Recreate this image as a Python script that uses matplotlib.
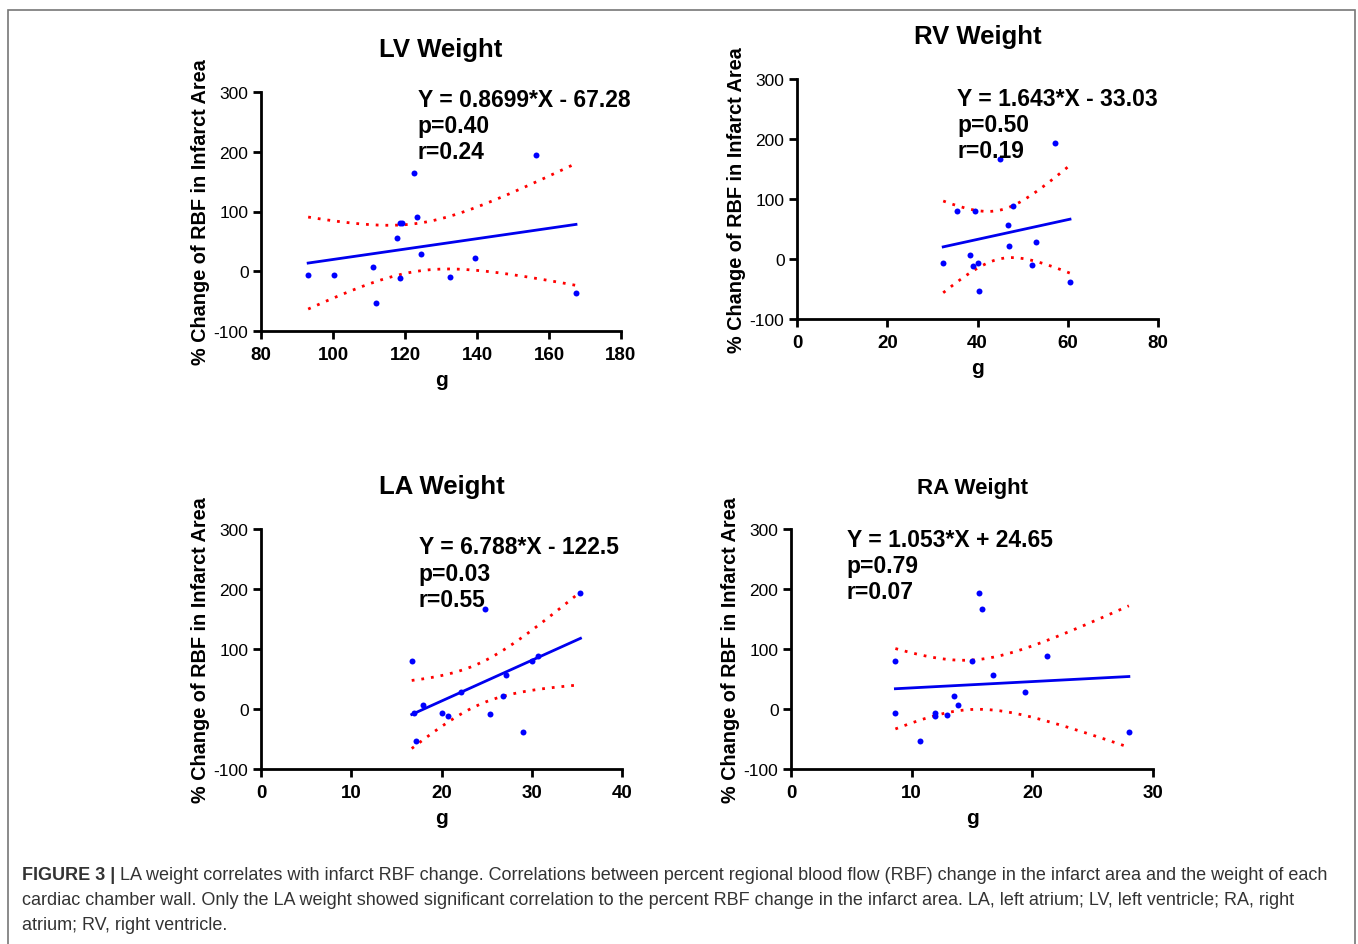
import numpy as np
import matplotlib.pyplot as plt
from matplotlib.patches import Rectangle

# shared y values: % change of RBF in infarct area
lv_x = [93.1, 100.3, 111.0, 111.9, 117.8, 118.5, 119.2, 118.5, 122.6, 123.2, 124.4, 132.4, 139.5, 156.4, 167.5]
lv_y = [-7, -7, 7, -53, 56, 80, 80, -11, 165, 90, 29, -10, 22, 194, -37]

rv_x = [32.4, 35.4, 38.4, 39.0, 39.4, 40.0, 40.3, 45.0, 46.7, 47.0, 47.8, 52.1, 53.0, 57.2, 60.5]
rv_y = [-7, 80, 6, -12, 80, -7, -53, 166, 56, 21, 89, -10, 29, 194, -38]

la_x = [16.7, 17.0, 17.2, 17.9, 20.1, 20.7, 22.2, 24.8, 25.4, 26.8, 27.1, 29.0, 30.0, 30.7, 35.4]
la_y = [80, -7, -53, 7, -7, -11, 29, 166, -9, 22, 57, -38, 80, 89, 194]

ra_x = [8.65, 8.65, 10.7, 11.9, 11.9, 12.9, 13.5, 13.8, 15.0, 15.6, 15.8, 16.7, 19.4, 21.2, 28.0]
ra_y = [80, -7, -53, -11, -7, -10, 21, 7, 80, 194, 166, 56, 29, 89, -38]

titles = ["LV Weight", "RV Weight", "LA Weight", "RA Weight"]
title_sizes = [18.5, 18.5, 18.5, 16]
slopes = [0.8699, 1.643, 6.788, 1.053]
intercepts = [-67.28, -33.03, -122.5, 24.65]
eqs = ["Y = 0.8699*X - 67.28", "Y = 1.643*X - 33.03", "Y = 6.788*X - 122.5", "Y = 1.053*X + 24.65"]
pvals = ["p=0.40", "p=0.50", "p=0.03", "p=0.79"]
rvals = ["r=0.24", "r=0.19", "r=0.55", "r=0.07"]
xticks = [[80, 100, 120, 140, 160, 180], [0, 20, 40, 60, 80], [0, 10, 20, 30, 40], [0, 10, 20, 30]]
yticks = [-100, 0, 100, 200, 300]
eq_pos = [(123.6, 287), (35.5, 268), (17.5, 270), (4.6, 283)]

xs = [lv_x, rv_x, la_x, ra_x]
ys = [lv_y, rv_y, la_y, ra_y]

plt.rcParams['font.family'] = ['Liberation Sans', 'DejaVu Sans']

fig = plt.figure(figsize=(13.58, 9.45), dpi=100)
W, H = 1358, 945
boxes = [(261, 621, 93, 332), (797, 1158, 80, 320), (261, 622, 530, 770), (791, 1153, 530, 770)]
ylab_x = [200, 737, 200, 731]

fig.add_artist(Rectangle((8 / W, -0.05), (1355 - 8) / W, 1 - 11 / H + 0.05, transform=fig.transFigure,
                         fill=False, edgecolor='#777777', lw=1.2))

T = 2.160  # t(0.975, df=13)
for i in range(4):
    l, r, t, b = boxes[i]
    ax = fig.add_axes([l / W, 1 - b / H, (r - l) / W, (b - t) / H])
    x = np.array(xs[i])
    y = np.array(ys[i])
    xx = np.linspace(x.min(), x.max(), 200)
    yy = slopes[i] * xx + intercepts[i]
    n = len(x)
    res = y - (slopes[i] * x + intercepts[i])
    s = np.sqrt(np.sum(res ** 2) / (n - 2))
    se = s * np.sqrt(1 / n + (xx - x.mean()) ** 2 / np.sum((x - x.mean()) ** 2))
    ax.plot(xx, yy, color='#0000ee', lw=2)
    ax.plot(xx, yy + T * se, color='#ff0000', lw=2, linestyle=(0, (1, 2.5)))
    ax.plot(xx, yy - T * se, color='#ff0000', lw=2, linestyle=(0, (1, 2.5)))
    ax.plot(x, y, 'o', color='#0000ff', markersize=4.3, markeredgewidth=0)

    ax.set_xlim(xticks[i][0], xticks[i][-1])
    ax.set_ylim(-100, 300)
    ax.set_xticks(xticks[i])
    ax.set_yticks(yticks)
    ax.set_xticklabels([str(v) for v in xticks[i]], fontsize=13.5, fontweight='bold')
    ax.set_yticklabels([str(v) for v in yticks], fontsize=12.5)
    for sp in ['top', 'right']:
        ax.spines[sp].set_visible(False)
    for sp in ['left', 'bottom']:
        ax.spines[sp].set_linewidth(2)
    ax.tick_params(width=2, length=6, direction='out', pad=3)
    ax.tick_params(axis='x', pad=5)

    ax.set_title(titles[i], fontsize=title_sizes[i], fontweight='bold', pad=26)
    ax.set_xlabel('g', fontsize=15, fontweight='bold', labelpad=5)
    fig.text(ylab_x[i] / W, 1 - ((t + b) / 2) / H, '% Change of RBF in Infarct Area', rotation=90,
             ha='center', va='center', fontsize=14.3, fontweight='bold')

    ex, ey = eq_pos[i]
    for k, s_ in enumerate([eqs[i], pvals[i], rvals[i]]):
        ax.text(ex, ey - k * 43.5, s_, fontsize=16.5, fontweight='bold', ha='left', va='center')

# caption
fig.canvas.draw()
rend = fig.canvas.get_renderer()
cap_col = '#333333'
lines = ["LA weight correlates with infarct RBF change. Correlations between percent regional blood flow (RBF) change in the infarct area and the weight of each",
         "cardiac chamber wall. Only the LA weight showed significant correlation to the percent RBF change in the infarct area. LA, left atrium; LV, left ventricle; RA, right",
         "atrium; RV, right ventricle."]
lys = [876, 901, 926]
bold = fig.text(22 / W, 1 - lys[0] / H, "FIGURE 3 |", fontsize=13, fontweight='bold', color=cap_col, va='center')
bb = bold.get_window_extent(rend)
fig.text((bb.x1 + 5) / W, 1 - lys[0] / H, lines[0], fontsize=13, color=cap_col, va='center')
fig.text(22 / W, 1 - lys[1] / H, lines[1], fontsize=13, color=cap_col, va='center')
fig.text(22 / W, 1 - lys[2] / H, lines[2], fontsize=13, color=cap_col, va='center')

fig.savefig('out.png', dpi=100)
